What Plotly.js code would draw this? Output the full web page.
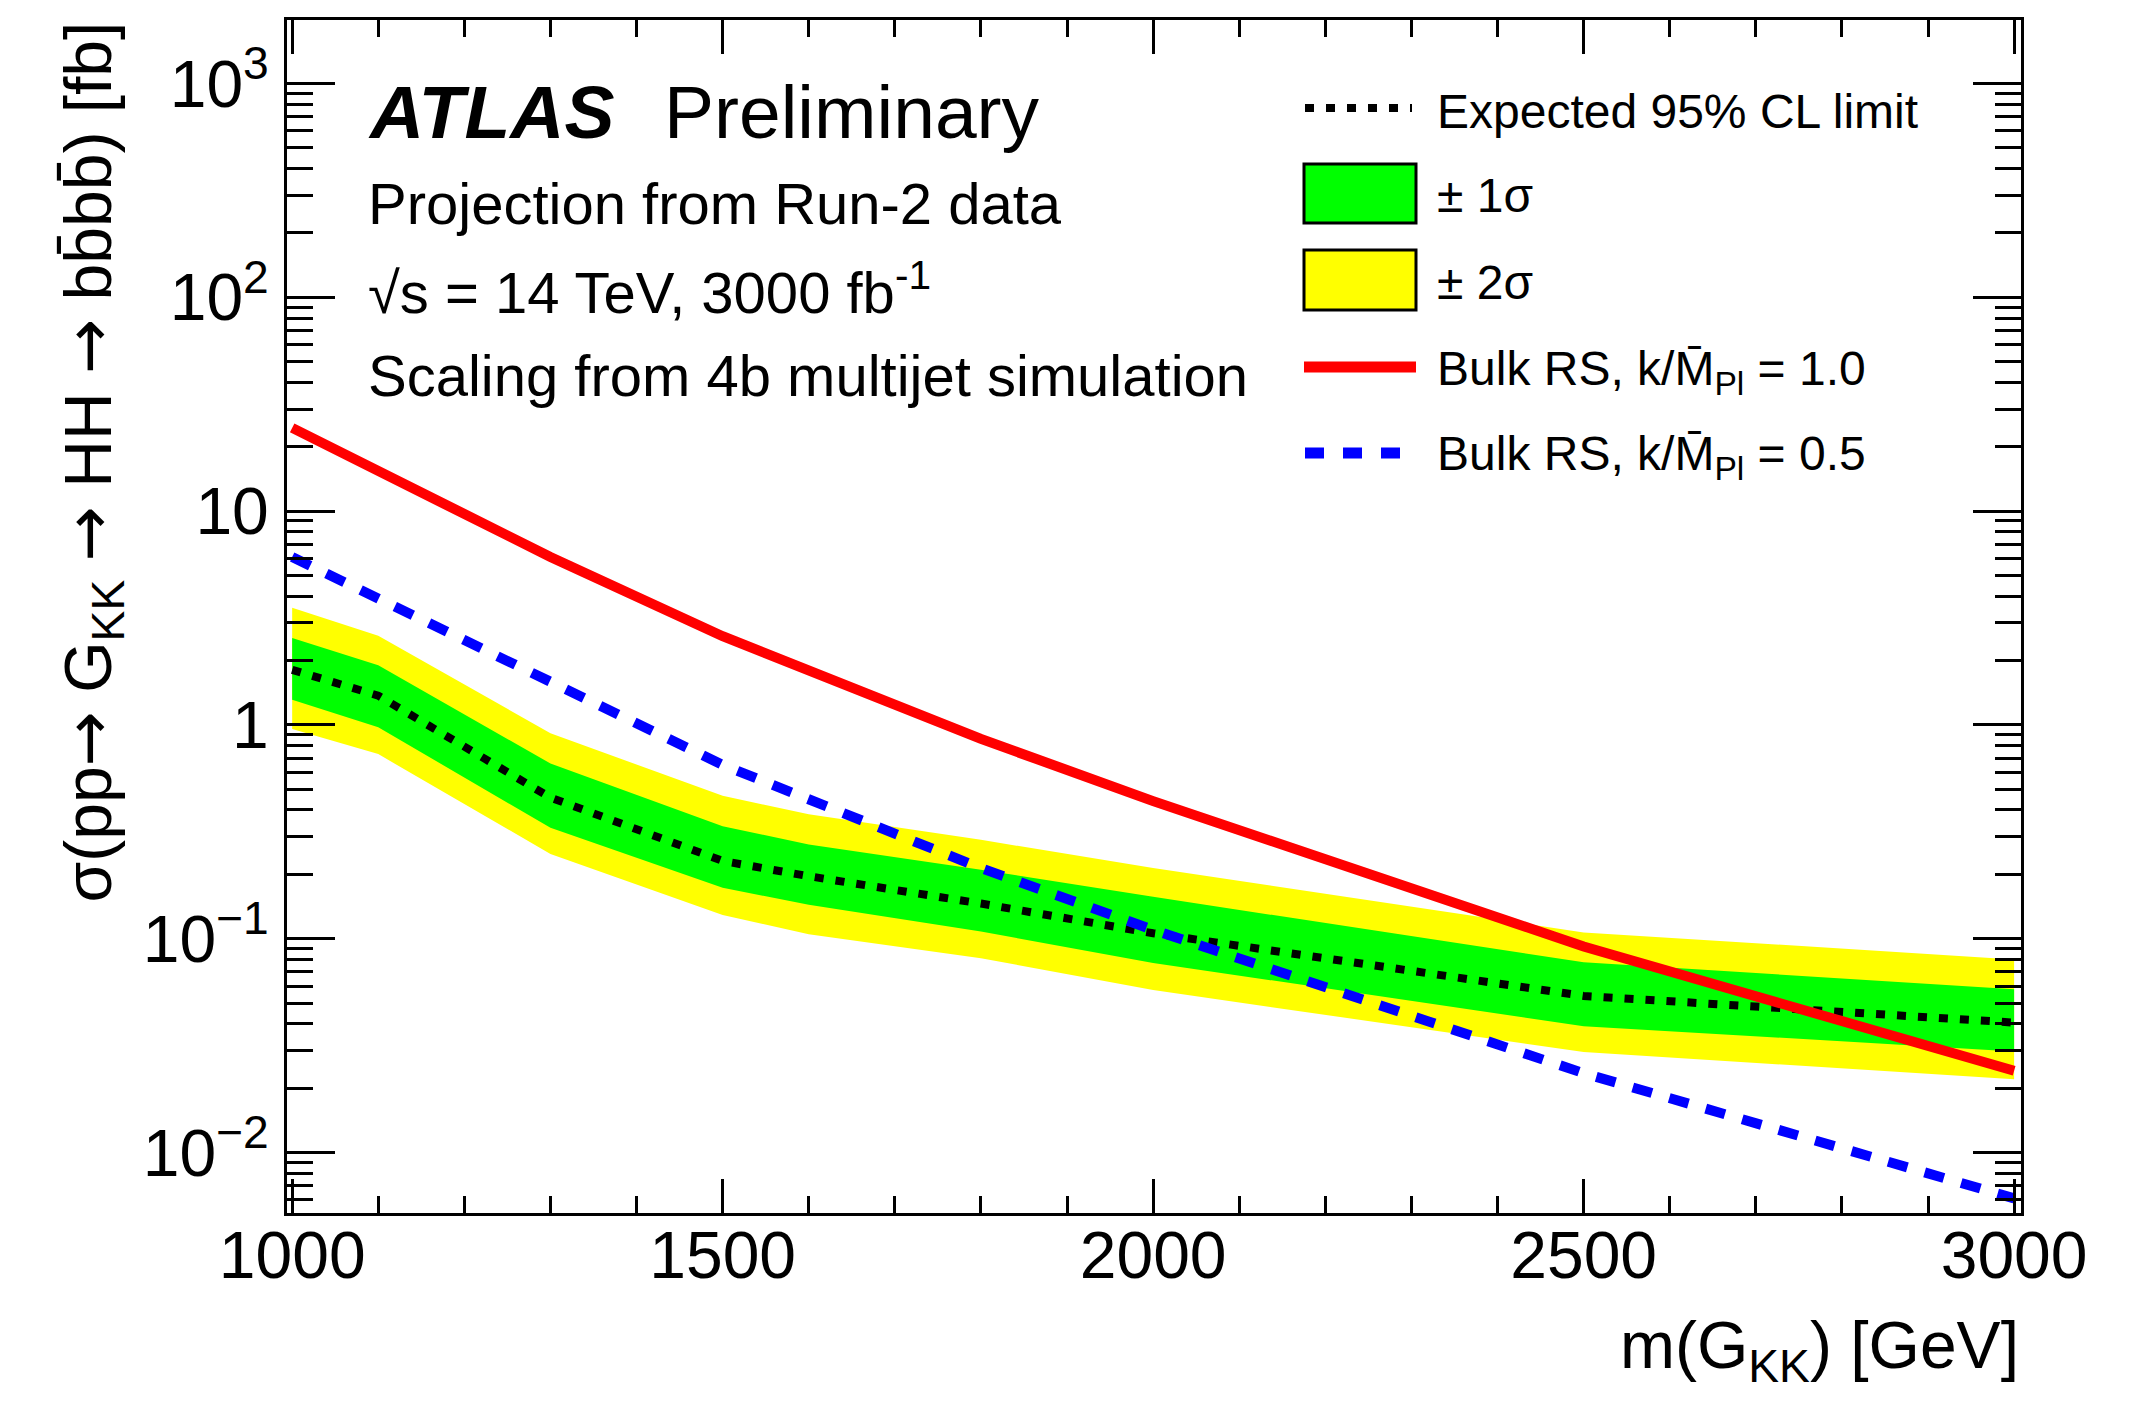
<!DOCTYPE html>
<html>
<head>
<meta charset="utf-8">
<script src="https://cdn.plot.ly/plotly-3.0.1.min.js"></script>
<style>
  html, body { margin: 0; padding: 0; background: #ffffff; }
  #chart { width: 2142px; height: 1404px; }
</style>
</head>
<body>
<div id="chart"></div>
<script>
// ---------------- data ----------------
const massBand   = [1000, 1100, 1300, 1500, 1600, 1800, 2000, 2500, 3000];
const expected   = [1.81, 1.37, 0.457, 0.231, 0.196, 0.146, 0.106, 0.054, 0.0405];
const plus1sigma = [2.55, 1.90, 0.66, 0.336, 0.276, 0.21, 0.157, 0.0776, 0.058];
const minus1sigma= [1.31, 0.975, 0.33, 0.173, 0.144, 0.108, 0.077, 0.039, 0.0297];
const plus2sigma = [3.53, 2.61, 0.914, 0.466, 0.382, 0.29, 0.214, 0.107, 0.080];
const minus2sigma= [0.957, 0.73, 0.249, 0.129, 0.105, 0.081, 0.0575, 0.0295, 0.022];

const massTheory = [1000, 1300, 1500, 1800, 2000, 2500, 3000];
const bulkRS10   = [24.5, 6.1, 2.6, 0.86, 0.44, 0.092, 0.0241];
const bulkRS05   = [6.1, 1.59, 0.65, 0.214, 0.11, 0.0235, 0.0061];

const xTickVals  = [1000, 1500, 2000, 2500, 3000];
const xTickText  = ['1000', '1500', '2000', '2500', '3000'];
const yTickVals  = [0.01, 0.1, 1, 10, 100, 1000];
const yTickText  = ['10<sup>\u22122</sup>', '10<sup>\u22121</sup>', '1', '10', '10<sup>2</sup>', '10<sup>3</sup>'];

const legendLabels = [
  'Expected 95% CL limit',
  '\u00b1 1\u03c3',
  '\u00b1 2\u03c3',
  'Bulk RS, k/M\u0304<sub>Pl</sub> = 1.0',
  'Bulk RS, k/M\u0304<sub>Pl</sub> = 0.5'
];

// ---------------- styling ----------------
const FONT = '"Liberation Sans", Arial, Helvetica, sans-serif';
const GREEN = '#00ff00', YELLOW = '#ffff00', RED = '#ff0000', BLUE = '#0000ff';
const ARROW = '<span style="font-family:\'DejaVu Sans\'">\u2192</span>';

// plot-area pixel frame
const F = { l: 287, r: 2021, t: 20, b: 1213 };
const px2x = p => (p - F.l) / (F.r - F.l);
const px2y = p => (F.b - p) / (F.b - F.t);

// minor log ticks (2..9 per decade inside the range)
const yRangeLog = [-2.283, 3.297];
const minorY = [];
for (let e = -3; e <= 3; e++) {
  for (let k = 2; k <= 9; k++) {
    const v = k * Math.pow(10, e);
    const lv = Math.log10(v);
    if (lv > yRangeLog[0] && lv < yRangeLog[1]) minorY.push(v);
  }
}

const traces = [
  { x: massBand, y: plus2sigma, mode: 'lines', line: { width: 0, color: YELLOW },
    showlegend: false, hoverinfo: 'skip' },
  { x: massBand, y: minus2sigma, mode: 'lines', line: { width: 0, color: YELLOW },
    fill: 'tonexty', fillcolor: YELLOW, showlegend: false, hoverinfo: 'skip' },
  { x: massBand, y: plus1sigma, mode: 'lines', line: { width: 0, color: GREEN },
    showlegend: false, hoverinfo: 'skip' },
  { x: massBand, y: minus1sigma, mode: 'lines', line: { width: 0, color: GREEN },
    fill: 'tonexty', fillcolor: GREEN, showlegend: false, hoverinfo: 'skip' },
  { x: massBand, y: expected, mode: 'lines',
    line: { color: '#000000', width: 8, dash: '9px,12px' }, showlegend: false },
  { x: massTheory, y: bulkRS05, mode: 'lines',
    line: { color: BLUE, width: 10, dash: '20px,18px' }, showlegend: false },
  { x: massTheory, y: bulkRS10, mode: 'lines',
    line: { color: RED, width: 10 }, showlegend: false }
];

// ---------------- text annotations ----------------
const annotations = [];
function addText(text, xp, yp, size, opts) {
  annotations.push(Object.assign({
    xref: 'paper', yref: 'paper', x: px2x(xp), y: px2y(yp),
    xanchor: 'left', yanchor: 'middle', showarrow: false, text: text,
    font: { family: FONT, size: size, color: '#000000' }
  }, opts || {}));
}
addText('<b><i>ATLAS</i></b>', 366, 112, 75);
addText('Preliminary', 662, 112, 75);
addText('Projection from Run-2 data', 366, 204, 58);
addText('\u221as = 14 TeV, 3000 fb<sup>-1</sup>', 366, 288, 58);
addText('Scaling from 4b multijet simulation', 366, 375, 58);

// legend texts
const legTextX = 1435;
const legRowsY = [111, 196, 282, 372, 457];
legendLabels.forEach((t, i) => addText(t, legTextX, legRowsY[i], 48));

// axis titles (ROOT style: aligned to the end of the axis)
annotations.push({
  xref: 'paper', yref: 'paper', x: px2x(92), y: 1, xanchor: 'center', yanchor: 'top',
  textangle: -90, showarrow: false,
  text: '\u03c3(pp' + ARROW + ' G<sub>KK</sub> ' + ARROW + ' HH ' + ARROW + ' bb\u0304bb\u0304) [fb]',
  font: { family: FONT, size: 66, color: '#000000' }
});
annotations.push({
  xref: 'paper', yref: 'paper', x: 1, y: px2y(1350), xanchor: 'right', yanchor: 'middle',
  showarrow: false,
  text: 'm(G<sub>KK</sub>) [GeV]',
  font: { family: FONT, size: 66, color: '#000000' }
});

// ---------------- legend sample shapes ----------------
const shapes = [
  { type: 'line', xref: 'paper', yref: 'paper',
    x0: px2x(1305), x1: px2x(1412), y0: px2y(108), y1: px2y(108),
    line: { color: '#000000', width: 8, dash: '9px,12px' } },
  { type: 'rect', xref: 'paper', yref: 'paper',
    x0: px2x(1304), x1: px2x(1416), y0: px2y(164), y1: px2y(223),
    fillcolor: GREEN, line: { color: '#000000', width: 3 } },
  { type: 'rect', xref: 'paper', yref: 'paper',
    x0: px2x(1304), x1: px2x(1416), y0: px2y(250), y1: px2y(310),
    fillcolor: YELLOW, line: { color: '#000000', width: 3 } },
  { type: 'line', xref: 'paper', yref: 'paper',
    x0: px2x(1304), x1: px2x(1416), y0: px2y(367), y1: px2y(367),
    line: { color: RED, width: 11 } },
  { type: 'line', xref: 'paper', yref: 'paper',
    x0: px2x(1305), x1: px2x(1400), y0: px2y(453), y1: px2y(453),
    line: { color: BLUE, width: 11, dash: '19px,19px' } }
];

const layout = {
  width: 2142, height: 1404,
  margin: { l: F.l, r: 2142 - F.r, t: F.t, b: 1404 - F.b, pad: 0 },
  paper_bgcolor: '#ffffff', plot_bgcolor: '#ffffff',
  showlegend: false,
  font: { family: FONT, color: '#000000' },
  xaxis: {
    range: [994, 3008], showgrid: false, zeroline: false,
    showline: true, linecolor: '#000000', linewidth: 3, mirror: 'allticks',
    ticks: 'inside', ticklen: 34, tickwidth: 3, tickcolor: '#000000',
    tickmode: 'array', tickvals: xTickVals, ticktext: xTickText,
    tickfont: { family: FONT, size: 66, color: '#000000' },
    ticklabelstandoff: -17,
    minor: { ticks: 'inside', ticklen: 17, tickwidth: 3, tickcolor: '#000000',
             tick0: 1000, dtick: 100 }
  },
  yaxis: {
    type: 'log', range: yRangeLog, showgrid: false, zeroline: false,
    showline: true, linecolor: '#000000', linewidth: 3, mirror: 'allticks',
    ticks: 'inside', ticklen: 48, tickwidth: 3, tickcolor: '#000000',
    tickmode: 'array', tickvals: yTickVals, ticktext: yTickText,
    tickfont: { family: FONT, size: 66, color: '#000000' },
    ticklabelstandoff: 2,
    minor: { ticks: 'inside', ticklen: 26, tickwidth: 3, tickcolor: '#000000',
             tickmode: 'array', tickvals: minorY }
  },
  annotations: annotations,
  shapes: shapes
};

Plotly.newPlot('chart', traces, layout, { displayModeBar: false, staticPlot: true });
</script>
</body>
</html>
